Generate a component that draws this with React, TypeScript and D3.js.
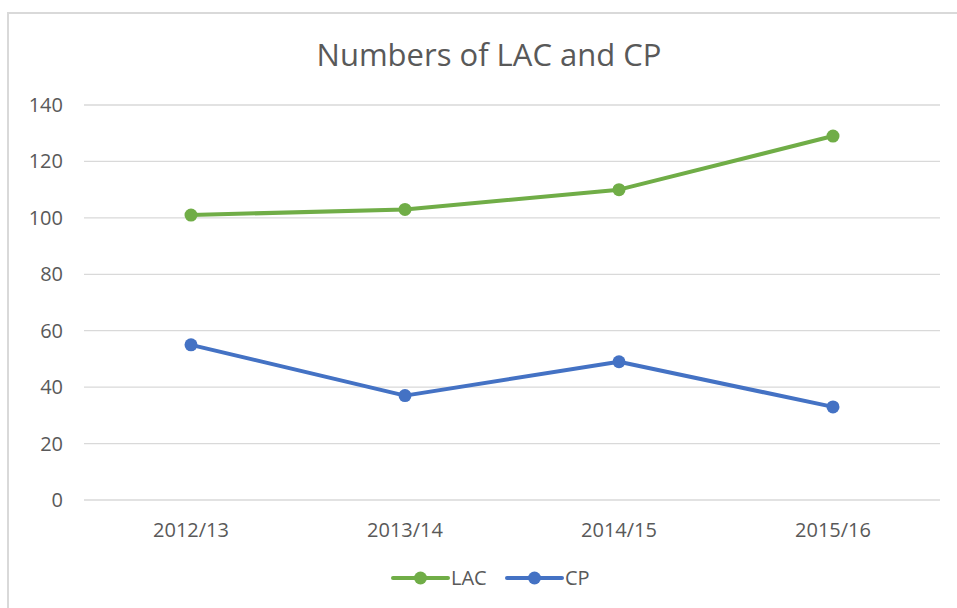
import React from 'react';
import * as d3 from 'd3';

const categories = ['2012/13', '2013/14', '2014/15', '2015/16'];
const lacValues = [101, 103, 110, 129];
const cpValues = [55, 37, 49, 33];
const yTicks = [0, 20, 40, 60, 80, 100, 120, 140];

const series = [
  { name: 'LAC', values: lacValues, color: '#70AD47' },
  { name: 'CP', values: cpValues, color: '#4472C4' },
];

const W = 957;
const H = 608;
const plot = { left: 84, right: 940, top: 105, bottom: 500 };
const font = '"Open Sans", sans-serif';
const textColor = '#595959';

const App = () => {
  const x = d3
    .scaleBand<string>()
    .domain(categories)
    .range([plot.left, plot.right]);
  const y = d3.scaleLinear().domain([0, 140]).range([plot.bottom, plot.top]);

  const line = d3
    .line<number>()
    .x((d, i) => (x(categories[i]) as number) + x.bandwidth() / 2)
    .y((d) => y(d));

  const legendX = [393, 507];

  return (
    <svg width={W} height={H} style={{ position: 'absolute', left: 0, top: 0 }}>
      <rect x={0} y={0} width={W} height={H} fill="#fff" />
      <rect x={8} y={13} width={W + 10} height={H + 10} fill="none" stroke="#D9D9D9" strokeWidth={2} />
      <text
        x={489}
        y={66}
        textAnchor="middle"
        fontFamily={font}
        fontSize={31}
        fill={textColor}
      >
        Numbers of LAC and CP
      </text>

      {yTicks.map((t) => (
        <g key={t}>
          <line x1={plot.left} x2={plot.right} y1={y(t)} y2={y(t)} stroke="#D9D9D9" strokeWidth={1.3} />
          <text
            x={63}
            y={y(t)}
            dy="0.35em"
            textAnchor="end"
            fontFamily={font}
            fontSize={20}
            fill={textColor}
          >
            {t}
          </text>
        </g>
      ))}

      {categories.map((c) => (
        <text
          key={c}
          x={(x(c) as number) + x.bandwidth() / 2}
          y={530}
          dy="0.35em"
          textAnchor="middle"
          fontFamily={font}
          fontSize={20}
          fill={textColor}
        >
          {c}
        </text>
      ))}

      {series.map((s) => (
        <g key={s.name}>
          <path d={line(s.values) as string} fill="none" stroke={s.color} strokeWidth={4} strokeLinejoin="round" />
          {s.values.map((v, i) => (
            <circle
              key={i}
              cx={(x(categories[i]) as number) + x.bandwidth() / 2}
              cy={y(v)}
              r={6.5}
              fill={s.color}
            />
          ))}
        </g>
      ))}

      {series.map((s, i) => (
        <g key={s.name} transform={`translate(${legendX[i]},578)`}>
          <line x1={0} x2={55} y1={0} y2={0} stroke={s.color} strokeWidth={4} strokeLinecap="round" />
          <circle cx={27.5} cy={0} r={6.5} fill={s.color} />
          <text x={58} y={0} dy="0.35em" fontFamily={font} fontSize={20} fill={textColor}>
            {s.name}
          </text>
        </g>
      ))}
    </svg>
  );
};

export default App;
